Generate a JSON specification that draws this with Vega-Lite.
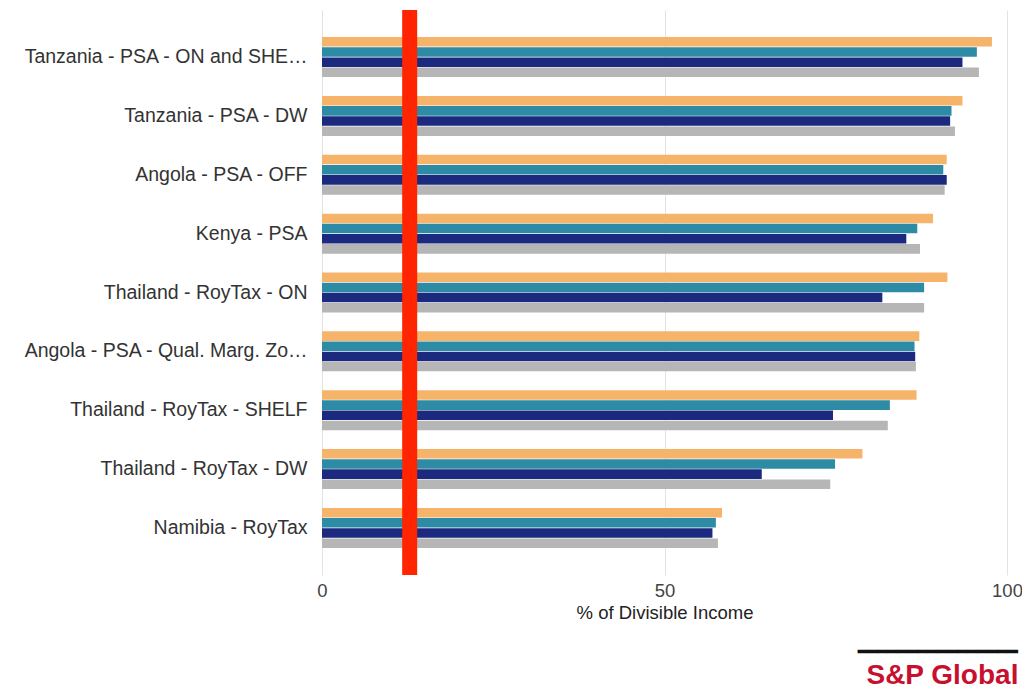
{
  "$schema": "https://vega.github.io/schema/vega-lite/v6.json",
  "autosize": {"type": "none"},
  "padding": {"left": 322, "top": 10, "right": 15, "bottom": 115},
  "width": 685,
  "height": 565,
  "background": "white",
  "config": {
    "view": {"stroke": null},
    "font": "Liberation Sans"
  },
  "title": {
    "text": "━━━━━━━━━━━━━━━━",
    "subtitle": "S&P Global",
    "orient": "bottom",
    "anchor": "end",
    "offset": 22,
    "dx": -4,
    "fontSize": 16,
    "color": "#111111",
    "subtitleColor": "#C8102E",
    "subtitleFont": "Liberation Sans",
    "subtitleFontSize": 28,
    "subtitleFontWeight": "bold",
    "subtitlePadding": 2
  },
  "layer": [
    {
      "data": {
        "values": [
          {"project": "Tanzania - PSA - ON and SHE…", "series": "Scenario 1", "value": 97.8},
          {"project": "Tanzania - PSA - ON and SHE…", "series": "Scenario 2", "value": 95.6},
          {"project": "Tanzania - PSA - ON and SHE…", "series": "Scenario 3", "value": 93.5},
          {"project": "Tanzania - PSA - ON and SHE…", "series": "Scenario 4", "value": 95.9},
          {"project": "Tanzania - PSA - DW", "series": "Scenario 1", "value": 93.5},
          {"project": "Tanzania - PSA - DW", "series": "Scenario 2", "value": 91.9},
          {"project": "Tanzania - PSA - DW", "series": "Scenario 3", "value": 91.7},
          {"project": "Tanzania - PSA - DW", "series": "Scenario 4", "value": 92.4},
          {"project": "Angola - PSA - OFF", "series": "Scenario 1", "value": 91.2},
          {"project": "Angola - PSA - OFF", "series": "Scenario 2", "value": 90.7},
          {"project": "Angola - PSA - OFF", "series": "Scenario 3", "value": 91.2},
          {"project": "Angola - PSA - OFF", "series": "Scenario 4", "value": 90.9},
          {"project": "Kenya - PSA", "series": "Scenario 1", "value": 89.2},
          {"project": "Kenya - PSA", "series": "Scenario 2", "value": 86.9},
          {"project": "Kenya - PSA", "series": "Scenario 3", "value": 85.3},
          {"project": "Kenya - PSA", "series": "Scenario 4", "value": 87.3},
          {"project": "Thailand - RoyTax - ON", "series": "Scenario 1", "value": 91.3},
          {"project": "Thailand - RoyTax - ON", "series": "Scenario 2", "value": 87.9},
          {"project": "Thailand - RoyTax - ON", "series": "Scenario 3", "value": 81.8},
          {"project": "Thailand - RoyTax - ON", "series": "Scenario 4", "value": 87.9},
          {"project": "Angola - PSA - Qual. Marg. Zo…", "series": "Scenario 1", "value": 87.2},
          {"project": "Angola - PSA - Qual. Marg. Zo…", "series": "Scenario 2", "value": 86.5},
          {"project": "Angola - PSA - Qual. Marg. Zo…", "series": "Scenario 3", "value": 86.6},
          {"project": "Angola - PSA - Qual. Marg. Zo…", "series": "Scenario 4", "value": 86.7},
          {"project": "Thailand - RoyTax - SHELF", "series": "Scenario 1", "value": 86.8},
          {"project": "Thailand - RoyTax - SHELF", "series": "Scenario 2", "value": 82.9},
          {"project": "Thailand - RoyTax - SHELF", "series": "Scenario 3", "value": 74.6},
          {"project": "Thailand - RoyTax - SHELF", "series": "Scenario 4", "value": 82.6},
          {"project": "Thailand - RoyTax - DW", "series": "Scenario 1", "value": 78.9},
          {"project": "Thailand - RoyTax - DW", "series": "Scenario 2", "value": 74.9},
          {"project": "Thailand - RoyTax - DW", "series": "Scenario 3", "value": 64.2},
          {"project": "Thailand - RoyTax - DW", "series": "Scenario 4", "value": 74.2},
          {"project": "Namibia - RoyTax", "series": "Scenario 1", "value": 58.4},
          {"project": "Namibia - RoyTax", "series": "Scenario 2", "value": 57.5},
          {"project": "Namibia - RoyTax", "series": "Scenario 3", "value": 57.0},
          {"project": "Namibia - RoyTax", "series": "Scenario 4", "value": 57.8}
        ]
      },
      "mark": {"type": "bar"},
      "encoding": {
        "y": {
          "field": "project",
          "type": "nominal",
          "sort": null,
          "scale": {"paddingInner": 0.32, "paddingOuter": 0.46},
          "axis": {
            "title": null,
            "domain": false,
            "ticks": false,
            "labelFontSize": 19.5,
            "labelColor": "#333333",
            "labelPadding": 15,
            "labelLimit": 320
          }
        },
        "yOffset": {
          "field": "series",
          "type": "nominal",
          "scale": {"paddingInner": 0.06}
        },
        "x": {
          "field": "value",
          "type": "quantitative",
          "scale": {"domain": [0, 100]},
          "axis": {
            "values": [0, 50, 100],
            "title": "% of Divisible Income",
            "titleFontSize": 18.5,
            "titleFontWeight": "normal",
            "titleColor": "#222222",
            "titlePadding": 4,
            "labelFontSize": 18.5,
            "labelColor": "#444444",
            "labelPadding": 6,
            "domain": false,
            "ticks": false,
            "grid": true,
            "gridColor": "#e3e3e3",
            "labelFlush": false
          }
        },
        "color": {
          "field": "series",
          "type": "nominal",
          "scale": {"range": ["#F6B46A", "#2E8BA6", "#1B2A7E", "#B6B6B6"]},
          "legend": null
        }
      }
    },
    {
      "data": {"values": [{"marker": 12.8}]},
      "mark": {"type": "rule", "color": "#FF2500", "strokeWidth": 15},
      "encoding": {
        "x": {"field": "marker", "type": "quantitative"}
      }
    }
  ]
}
